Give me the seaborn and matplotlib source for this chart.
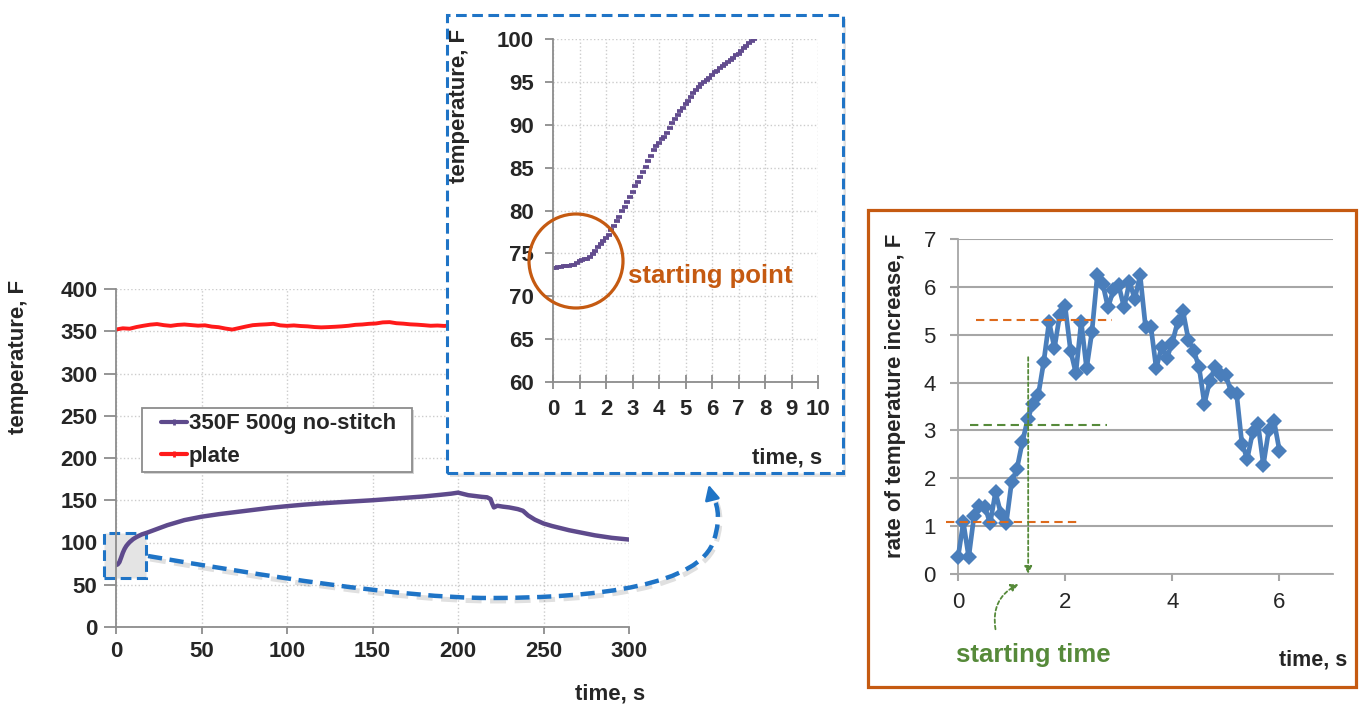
import numpy as np
import pandas as pd
import matplotlib
matplotlib.use("Agg")
import matplotlib.pyplot as plt
import seaborn as sns
from matplotlib.patches import Rectangle, Ellipse, FancyArrowPatch, PathPatch
from matplotlib.path import Path
from matplotlib.lines import Line2D

# ---------------- data ----------------
# main chart: plate temperature (F) vs time (s)
plate_time = [0, 4, 8, 12, 16, 20, 24, 28, 32, 36, 40, 44, 48, 52, 56, 60, 64, 68, 72, 76,
              80, 84, 88, 92, 96, 100, 104, 108, 112, 116, 120, 124, 128, 132, 136, 140, 144,
              148, 152, 156, 160, 164, 168, 172, 176, 180, 184, 188, 192, 196, 200, 204, 208,
              212, 216, 220, 224, 228, 232, 236, 240, 244, 248, 252, 256, 260, 264, 268, 272,
              276, 280, 284, 288, 292, 296, 300]
plate_temp = [352.0, 353.5, 353.0, 355.0, 356.5, 357.8, 358.5, 357.2, 356.4, 357.5, 358.0,
              357.3, 356.6, 357.0, 355.5, 354.8, 353.2, 352.0, 353.8, 355.6, 357.2, 357.8,
              358.2, 358.8, 357.0, 356.4, 356.9, 356.2, 355.8, 355.0, 354.6, 354.9, 355.3,
              355.8, 356.5, 357.6, 358.0, 358.8, 359.2, 360.5, 360.8, 359.5, 359.0, 358.2,
              357.8, 357.2, 356.5, 356.8, 356.3, 357.0, 356.5, 356.8, 357.2, 356.5, 357.5,
              358.0, 357.4, 356.9, 357.3, 358.1, 357.6, 357.0, 356.6, 357.2, 357.9, 358.3,
              357.7, 357.1, 356.8, 357.4, 357.9, 357.5, 357.0, 357.3, 357.6, 357.2]

# main chart: sample "350F 500g no-stitch"
sample_time = [0, 1, 2, 3, 4, 5, 6, 7, 8, 10, 12, 15, 18, 22, 26, 30, 35, 40, 50, 60, 70, 80,
               90, 100, 110, 120, 130, 140, 150, 160, 170, 180, 190, 196, 200, 203, 206, 210,
               214, 217, 219, 220, 221, 223, 226, 230, 235, 238, 241, 245, 250, 255, 260, 265,
               270, 275, 280, 285, 290, 295, 300]
sample_temp = [73.3, 74.1, 76.8, 82.2, 87.9, 92.4, 95.8, 98.3, 100.5, 104.0, 106.5, 109.5,
               111.5, 114.5, 117.5, 120.5, 123.5, 126.5, 130.5, 133.5, 136.0, 138.5, 141.0,
               143.0, 144.8, 146.3, 147.6, 148.8, 150.0, 151.5, 153.0, 154.5, 156.5, 157.8,
               159.0, 157.5, 156.0, 155.0, 154.0, 153.5, 151.5, 146.0, 141.5, 143.5, 142.5,
               141.5, 139.5, 137.5, 132.0, 127.0, 122.5, 119.5, 117.0, 114.5, 112.5, 110.5,
               108.5, 107.0, 105.5, 104.5, 103.5]

# inset: first seconds of the sample curve (0.1 s samples)
inset_time = [0.0, 0.1, 0.2, 0.3, 0.4, 0.5, 0.6, 0.7, 0.8, 0.9,
              1.0, 1.1, 1.2, 1.3, 1.4, 1.5, 1.6, 1.7, 1.8, 1.9,
              2.0, 2.1, 2.2, 2.3, 2.4, 2.5, 2.6, 2.7, 2.8, 2.9,
              3.0, 3.1, 3.2, 3.3, 3.4, 3.5, 3.6, 3.7, 3.8, 3.9,
              4.0, 4.1, 4.2, 4.3, 4.4, 4.5, 4.6, 4.7, 4.8, 4.9,
              5.0, 5.1, 5.2, 5.3, 5.4, 5.5, 5.6, 5.7, 5.8, 5.9,
              6.0, 6.1, 6.2, 6.3, 6.4, 6.5, 6.6, 6.7, 6.8, 6.9,
              7.0, 7.1, 7.2, 7.3, 7.4, 7.5, 7.6]
inset_temp = [73.3, 73.3, 73.4, 73.4, 73.5, 73.5, 73.5, 73.6, 73.6, 73.9,
              74.1, 74.2, 74.3, 74.4, 74.6, 74.9, 75.3, 75.7, 76.1, 76.4,
              76.8, 77.2, 77.7, 78.2, 78.8, 79.3, 79.9, 80.4, 81.0, 81.6,
              82.2, 82.8, 83.3, 83.9, 84.5, 85.1, 85.8, 86.4, 87.0, 87.5,
              87.9, 88.3, 88.6, 89.0, 89.6, 90.2, 90.7, 91.1, 91.6, 92.0,
              92.4, 92.8, 93.2, 93.7, 94.1, 94.4, 94.7, 95.0, 95.2, 95.4,
              95.8, 96.1, 96.3, 96.6, 96.8, 97.1, 97.3, 97.6, 97.8, 98.1,
              98.3, 98.6, 98.9, 99.2, 99.5, 99.8, 100.0]

# right chart: rate of temperature increase
rate_time = [0.0, 0.1, 0.2, 0.3, 0.4, 0.5, 0.6, 0.7, 0.8, 0.9, 1.0, 1.1, 1.2, 1.3, 1.4, 1.5,
             1.6, 1.7, 1.8, 1.9, 2.0, 2.1, 2.2, 2.3, 2.4, 2.5, 2.6, 2.7, 2.8, 2.9, 3.0, 3.1,
             3.2, 3.3, 3.4, 3.5, 3.6, 3.7, 3.8, 3.9, 4.0, 4.1, 4.2, 4.3, 4.4, 4.5, 4.6, 4.7,
             4.8, 4.9, 5.0, 5.1, 5.2, 5.3, 5.4, 5.5, 5.6, 5.7, 5.8, 5.9, 6.0]
rate_vals = [0.35, 1.08, 0.35, 1.22, 1.43, 1.41, 1.06, 1.71, 1.26, 1.06,
             1.92, 2.20, 2.75, 3.23, 3.56, 3.75, 4.43, 5.27, 4.72, 5.42,
             5.59, 4.67, 4.20, 5.27, 4.30, 5.06, 6.24, 6.07, 5.57, 5.93,
             6.03, 5.57, 6.10, 5.75, 6.24, 5.17, 5.17, 4.30, 4.74, 4.52,
             4.83, 5.27, 5.49, 4.90, 4.67, 4.32, 3.56, 4.04, 4.33, 4.15,
             4.15, 3.80, 3.77, 2.72, 2.41, 2.96, 3.14, 2.28, 3.00, 3.19, 2.58]

main_xticks = [0, 50, 100, 150, 200, 250, 300]
main_yticks = [0, 50, 100, 150, 200, 250, 300, 350, 400]
inset_xticks = [0, 1, 2, 3, 4, 5, 6, 7, 8, 9, 10]
inset_yticks = [60, 65, 70, 75, 80, 85, 90, 95, 100]
rate_xticks = [0, 2, 4, 6]
rate_yticks = [0, 1, 2, 3, 4, 5, 6, 7]
legend_labels = ["350F 500g no-stitch", "plate"]

# ---------------- style ----------------
W, H = 1362, 709
sns.set_theme(style="white")
plt.rcParams['font.family'] = ['Liberation Sans', 'DejaVu Sans']

PURPLE = '#5e4a8c'
RED = '#ff1a1a'
BLUE = '#1f74c6'
ORANGE = '#c55a11'
LORANGE = '#dd6a1c'
GREEN = '#568a3a'
RBLUE = '#4a7ebb'
SPINE = '#8c8c8c'
FS = 16

fig = plt.figure(figsize=(W / 100, H / 100), dpi=100)


def fx(x):
    return x / W


def fy(y):
    return 1 - y / H


def rect_px(l, t, r, b):
    return [l / W, 1 - b / H, (r - l) / W, (b - t) / H]


def style_axes(ax, spine_col):
    for s in ['top', 'right']:
        ax.spines[s].set_visible(False)
    for s in ['left', 'bottom']:
        ax.spines[s].set_color(spine_col)
        ax.spines[s].set_linewidth(1.3)


# ---------------- main chart ----------------
ax = fig.add_axes(rect_px(116, 289, 629, 627))
sns.lineplot(x=plate_time, y=plate_temp, ax=ax, color=RED, lw=2.8)
sns.lineplot(x=sample_time, y=sample_temp, ax=ax, color=PURPLE, lw=3.2)
ax.set_xlim(0, 300)
ax.set_ylim(0, 400)
ax.set_xticks(main_xticks)
ax.set_yticks(main_yticks)
ax.grid(True, ls=':', color='#cccccc', lw=1.0)
style_axes(ax, SPINE)
ax.tick_params(axis='x', direction='out', length=5, width=1.3, color=SPINE, pad=5,
               labelsize=FS, bottom=True)
ax.tick_params(axis='y', direction='out', length=8.4, width=1.3, color=SPINE, pad=5,
               labelsize=FS, left=True)
for lab in ax.get_xticklabels() + ax.get_yticklabels():
    lab.set_fontweight('bold')
ax.set_xlabel('')
ax.set_ylabel('')

# legend: frame drawn as its own box
ax.add_patch(Rectangle((fx(144), fy(474)), (412 - 142) / W, (472 - 408) / H,
                       transform=fig.transFigure, facecolor='#d4d4d4', edgecolor='none',
                       clip_on=False, zorder=4))
ax.add_patch(Rectangle((fx(142), fy(472)), (412 - 142) / W, (472 - 408) / H,
                       transform=fig.transFigure, facecolor='white', edgecolor=SPINE,
                       lw=1.3, clip_on=False, zorder=4.1))
handles = [Line2D([], [], color=PURPLE, lw=3, marker='|', ms=5, mew=2),
           Line2D([], [], color=RED, lw=3, marker='|', ms=5, mew=2)]
leg = ax.legend(handles, legend_labels, loc='center left',
                bbox_to_anchor=(fx(161), fy(440)), bbox_transform=fig.transFigure,
                borderaxespad=0, frameon=False, prop={'weight': 'bold', 'size': FS},
                handlelength=1.15, handletextpad=0.1, borderpad=0, labelspacing=0.5)
leg.set_zorder(5)

# highlighted zoom region
ax.add_patch(Rectangle((-7, 58), 24.5, 53.5, facecolor='#e4e4e4', edgecolor=BLUE,
                       lw=2.2, ls=(0, (3.5, 1.8)), clip_on=False, zorder=1.5))

fig.text(fx(19), fy(357), 'temperature, F', rotation=90, ha='center', va='center',
         fontsize=FS, fontweight='bold')
fig.text(fx(610), fy(694), 'time, s', ha='center', va='center', fontsize=FS,
         fontweight='bold')

# connector curve from highlight to inset
pts = [(148, 556), (260, 575), (400, 598), (490, 598),
       (600, 598), (700, 585), (714, 540),
       (722, 515), (716, 502), (712, 494)]
codes = [Path.MOVETO] + [Path.CURVE4] * 9
path = Path([(fx(x), fy(y)) for x, y in pts], codes)
shadow = Path([(fx(x + 2), fy(y + 3)) for x, y in pts], codes)
fig.add_artist(PathPatch(shadow, facecolor='none', edgecolor='#000000', alpha=0.12, lw=3.6,
                         ls=(0, (3.2, 1.7)), transform=fig.transFigure, zorder=0.9))
fig.add_artist(PathPatch(path, facecolor='none', edgecolor=BLUE, lw=3.2,
                         ls=(0, (3.2, 1.7)), transform=fig.transFigure, zorder=1))
fig.add_artist(FancyArrowPatch((fx(712), fy(498)), (fx(708), fy(482)),
                               arrowstyle='-|>', mutation_scale=22, color=BLUE, lw=2,
                               transform=fig.transFigure, zorder=1))

# ---------------- inset ----------------
fig.add_artist(Rectangle((fx(450), fy(477)), (843 - 447) / W, (473 - 15) / H,
                         transform=fig.transFigure, facecolor='#cfcfcf', edgecolor='none',
                         alpha=0.6, zorder=1.1))
fig.add_artist(Rectangle((fx(447), fy(473)), (843 - 447) / W, (473 - 15) / H,
                         transform=fig.transFigure, facecolor='white', edgecolor=BLUE,
                         lw=2.2, ls=(0, (3.5, 1.8)), zorder=1.2))
ax2 = fig.add_axes(rect_px(553, 39, 818, 382), zorder=2)
ax2.patch.set_alpha(0)
sns.scatterplot(x=inset_time, y=inset_temp, ax=ax2, marker='_', s=15, linewidth=2.7,
                color='#624c8e')
ax2.set_xlim(0, 10)
ax2.set_ylim(60, 100)
ax2.set_xticks(inset_xticks)
ax2.set_yticks(inset_yticks)
ax2.grid(True, ls=':', color='#cccccc', lw=1.0)
style_axes(ax2, SPINE)
ax2.tick_params(axis='x', direction='inout', length=10, width=1.3, color=SPINE, pad=7,
                labelsize=FS, bottom=True)
ax2.tick_params(axis='y', direction='out', length=6, width=1.3, color=SPINE, pad=8,
                labelsize=FS, left=True)
for lab in ax2.get_xticklabels() + ax2.get_yticklabels():
    lab.set_fontweight('bold')
ax2.set_xlabel('')
ax2.set_ylabel('')
fig.text(fx(460), fy(106), 'temperature, F', rotation=90, ha='center', va='center',
         fontsize=FS, fontweight='bold', zorder=3)
fig.text(fx(787), fy(458), 'time, s', ha='center', va='center', fontsize=FS,
         fontweight='bold', zorder=3)
fig.add_artist(Ellipse((fx(576), fy(261)), 94 / W, 94 / H, transform=fig.transFigure,
                       fill=False, edgecolor=ORANGE, lw=2.3, zorder=3))
fig.text(fx(710), fy(276), 'starting point', ha='center', va='center', fontsize=18.5,
         fontweight='bold', color=ORANGE, zorder=3)

# ---------------- right chart ----------------
fig.add_artist(Rectangle((fx(868), fy(687)), (1356 - 868) / W, (687 - 210) / H,
                         transform=fig.transFigure, facecolor='none', edgecolor=ORANGE,
                         lw=2.3, zorder=1))
ax3 = fig.add_axes(rect_px(958, 239, 1333, 574))
sns.lineplot(x=rate_time, y=rate_vals, ax=ax3, color=RBLUE, lw=3.4, marker='D',
             markersize=8.5, markeredgecolor=RBLUE, markeredgewidth=0, clip_on=False,
             zorder=3)
ax3.set_xlim(0, 7)
ax3.set_ylim(0, 7)
ax3.set_xticks(rate_xticks)
ax3.set_yticks(rate_yticks)
ax3.grid(False)
ax3.yaxis.grid(True, color='#a6a6a6', lw=1.5)
style_axes(ax3, '#a6a6a6')
ax3.tick_params(axis='x', direction='out', length=5, width=1.5, color='#a6a6a6', pad=8,
                labelsize=FS, bottom=True)
ax3.tick_params(axis='y', direction='out', length=6, width=1.5, color='#a6a6a6', pad=10,
                labelsize=FS, left=True)
ax3.set_xlabel('')
ax3.set_ylabel('')

ax3.plot([-0.22, 2.3], [1.08, 1.08], ls=(0, (4, 2.5)), color=LORANGE, lw=1.5,
         clip_on=False, zorder=4)
ax3.plot([0.34, 2.87], [5.30, 5.30], ls=(0, (4, 2.5)), color=LORANGE, lw=1.5,
         clip_on=False, zorder=4)
ax3.plot([0.23, 2.78], [3.12, 3.12], ls=(0, (4, 2.5)), color=GREEN, lw=1.5,
         clip_on=False, zorder=4)
ax3.annotate('', xy=(1.31, 0.0), xytext=(1.31, 4.53),
             arrowprops=dict(arrowstyle='-|>', ls=(0, (2, 1.5)), color=GREEN, lw=1.3,
                             mutation_scale=11, shrinkA=0, shrinkB=0), zorder=4)

fig.text(fx(895), fy(396), 'rate of temperature increase, F', rotation=90, ha='center',
         va='center', fontsize=FS, fontweight='bold')
fig.text(fx(1313), fy(660), 'time, s', ha='center', va='center', fontsize=15.5,
         fontweight='bold')
fig.text(fx(1033), fy(655), 'starting time', ha='center', va='center', fontsize=18.5,
         fontweight='bold', color=GREEN)
fig.add_artist(FancyArrowPatch((fx(996), fy(632)), (fx(1021), fy(583)),
                               connectionstyle='arc3,rad=-0.4', arrowstyle='-|>',
                               mutation_scale=11, color=GREEN, lw=1.3,
                               ls=(0, (2, 1.5)), transform=fig.transFigure, zorder=2))

fig.savefig('out.png', dpi=100)
